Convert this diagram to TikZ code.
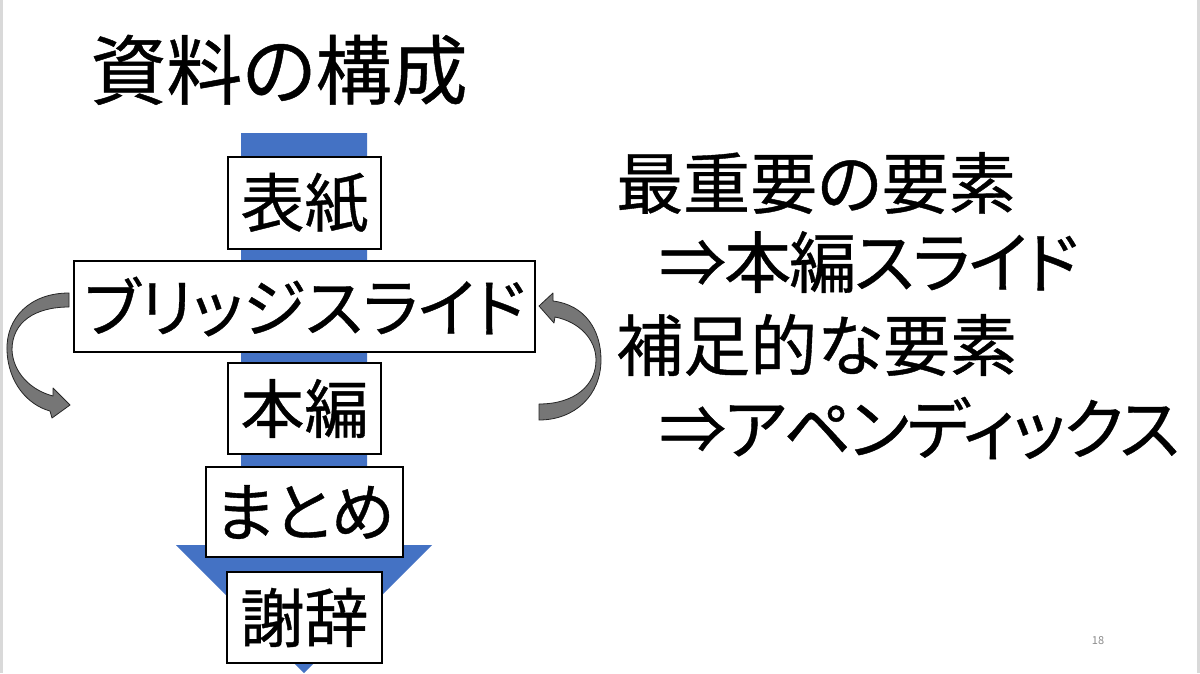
\documentclass[tikz,border=0pt]{standalone}
\usepackage{fontspec}
\newfontfamily\jp[RawFeature=+palt, FakeBold=0.6]{Noto Sans CJK JP}
\newfontfamily\jptight[RawFeature=+palt, FakeBold=0.6, LetterSpace=-3]{Noto Sans CJK JP}
\newfontfamily\jpfull{Noto Sans CJK JP}
\definecolor{officeblue}{RGB}{68,114,196}
\definecolor{edgegrey}{RGB}{217,217,217}
\definecolor{arrowgrey}{RGB}{118,118,118}
\definecolor{pagegrey}{RGB}{140,140,140}
\tikzset{
  stagebox/.style={draw=black, line width=1.4pt, fill=white, inner sep=0pt, font=\jp\fontsize{64}{70}\selectfont},
  righttext/.style={anchor=west, inner sep=0pt, font=\jp\fontsize{67}{72}\selectfont},
  righttight/.style={righttext, font=\jptight\fontsize{67}{72}\selectfont},
  bendarrow/.style={fill=arrowgrey, draw=black!85, line width=0.8pt, line join=round},
}
\begin{document}
\begin{tikzpicture}[x=1pt,y=-1pt]
\useasboundingbox (0,0) rectangle (1200,673);
\fill[white] (0,0) rectangle (1200,673);
% slide edges
\fill[edgegrey] (0,0) rectangle (3,673);
\fill[edgegrey] (1197,0) rectangle (1200,673);
% title
\node[inner sep=0pt, font=\jp\fontsize{76}{80}\selectfont] (title) at (279,70) {資料の構成};
% big blue down arrow
\fill[officeblue] (241,133) -- (367,133) -- (367,545) -- (432,545) -- (304,673) -- (176,545) -- (241,545) -- cycle;
% stage boxes
\node[stagebox, minimum width=153pt, minimum height=92pt] (cover) at (304.5,203) {表紙};
\node[stagebox, minimum width=461pt, minimum height=91pt] (bridge) at (304.5,306.5) {ブリッジスライド};
\node[stagebox, minimum width=153pt, minimum height=91pt] (main) at (304.5,408.5) {本編};
\node[stagebox, minimum width=197pt, minimum height=90pt] (summary) at (304.5,512) {まとめ};
\node[stagebox, minimum width=155pt, minimum height=91pt] (thanks) at (304.5,617.5) {謝辞};
% left curved arrow
\draw[bendarrow] (69,293) .. controls (30,293) and (6,318) .. (7,350)
  .. controls (8,383) and (28,405) .. (50,411)
  -- (52,418) -- (70,405) -- (53,388) -- (53,396)
  .. controls (30,390) and (13,372) .. (12,350)
  .. controls (12,322) and (35,307) .. (69,307) -- cycle;
% right curved arrow
\draw[bendarrow] (539,404) .. controls (575,404) and (596,385) .. (596,360)
  .. controls (596,340) and (580,322) .. (555,317)
  -- (554,323) -- (539,306) -- (553,293) -- (553,301)
  .. controls (585,305) and (601,330) .. (601,360)
  .. controls (601,395) and (575,420) .. (539,420) -- cycle;
% right-hand text
\node[righttext] (l1) at (616,183) {最重要の要素};
\node[righttight] (l2) at (659,262) {⇒本編スライド};
\node[righttext] (l3) at (616,345) {補足的な要素};
\node[righttight] (l4) at (659,428) {⇒アペンディックス};
% page number
\node[inner sep=0pt, text=pagegrey, font=\jpfull\fontsize{11}{12}\selectfont] (page) at (1098,641) {18};
\end{tikzpicture}
\end{document}
